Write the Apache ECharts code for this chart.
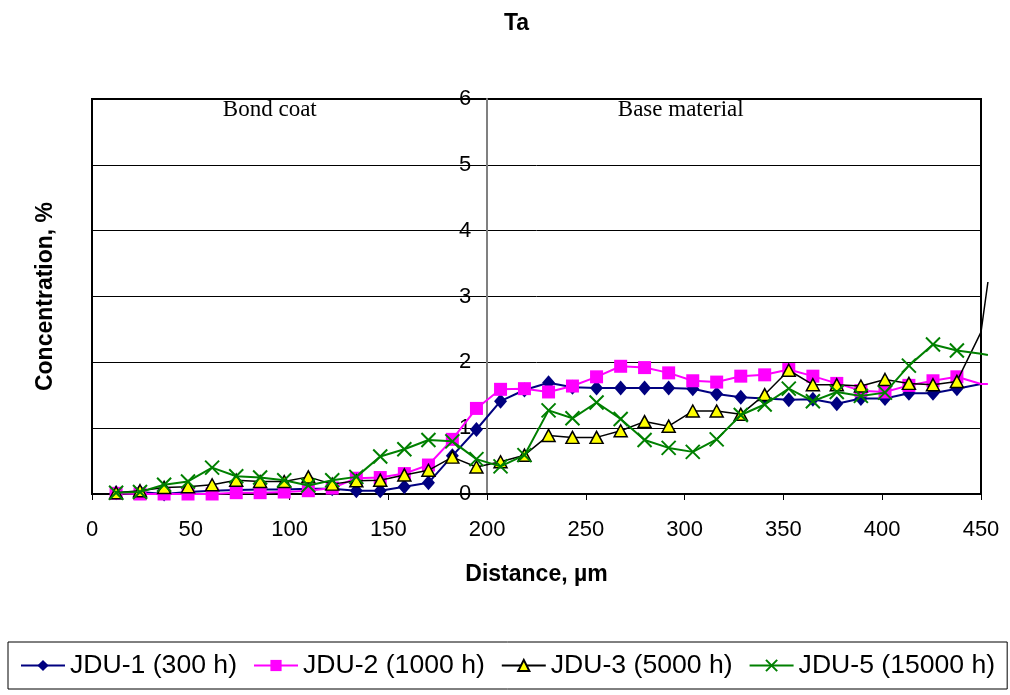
<!DOCTYPE html>
<html>
<head>
<meta charset="utf-8">
<title>Ta</title>
<script src="https://cdn.jsdelivr.net/npm/echarts@6/dist/echarts.min.js"></script>
<style>
  html, body { margin: 0; padding: 0; background: #fff; }
  #chart { width: 1010px; height: 695px; }
</style>
</head>
<body>
<div id="chart"></div>
<script>
// Measurement positions along the cross-section, µm
const distances = [
  12.2, 24.3, 36.5, 48.6, 60.8, 73.0, 85.1, 97.3, 109.5, 121.6,
  133.8, 145.9, 158.1, 170.3, 182.4, 194.6, 206.8, 218.9, 231.1, 243.2,
  255.4, 267.6, 279.7, 291.9, 304.1, 316.2, 328.4, 340.5, 352.7, 364.9,
  377.0, 389.2, 401.4, 413.5, 425.7, 437.8, 450.0
];
// The profile runs on a little past the framed range; this is where it is cut off
const tailDistance = 453.5;

// Ta concentration, %
const jdu1 = [
  0.02, 0.03, 0.00, 0.03, 0.05, 0.06, 0.07, 0.07, 0.08, 0.08,
  0.05, 0.05, 0.11, 0.17, 0.58, 0.98, 1.41, 1.58, 1.69, 1.62,
  1.61, 1.61, 1.61, 1.61, 1.60, 1.52, 1.47, 1.45, 1.43, 1.44,
  1.37, 1.45, 1.45, 1.53, 1.53, 1.60, 1.67
];
const jdu2 = [
  0.01, 0.00, 0.00, 0.00, 0.00, 0.02, 0.02, 0.03, 0.05, 0.09,
  0.24, 0.25, 0.31, 0.44, 0.83, 1.30, 1.59, 1.60, 1.55, 1.64,
  1.78, 1.94, 1.92, 1.84, 1.72, 1.70, 1.79, 1.81, 1.89, 1.79,
  1.68, 1.57, 1.55, 1.65, 1.72, 1.78, 1.67
];
const jdu3 = [
  0.02, 0.05, 0.10, 0.11, 0.14, 0.21, 0.19, 0.19, 0.26, 0.15,
  0.20, 0.21, 0.29, 0.36, 0.56, 0.41, 0.49, 0.59, 0.89, 0.86,
  0.86, 0.96, 1.10, 1.03, 1.26, 1.26, 1.21, 1.51, 1.88, 1.66,
  1.66, 1.64, 1.74, 1.68, 1.66, 1.71, 2.46
];
const jdu5 = [
  0.02, 0.03, 0.14, 0.19, 0.40, 0.27, 0.25, 0.21, 0.13, 0.21,
  0.26, 0.57, 0.68, 0.82, 0.80, 0.53, 0.42, 0.59, 1.27, 1.15,
  1.39, 1.14, 0.82, 0.70, 0.64, 0.83, 1.20, 1.36, 1.60, 1.41,
  1.55, 1.49, 1.54, 1.95, 2.27, 2.18, 2.13
];
// Value at the cut-off distance (null: the line stops at 450 µm)
const tails = { jdu1: null, jdu2: 1.67, jdu3: 3.22, jdu5: 2.11 };

const seriesNames = ['JDU-1 (300 h)', 'JDU-2 (1000 h)', 'JDU-3 (5000 h)', 'JDU-5 (15000 h)'];
const xTicks = { min: 0, max: 450, step: 50 };
const yTicks = { min: 0, max: 6, step: 1 };
const interfaceAt = 200;             // bond coat / base material boundary, µm
const zoneLabels = [
  { text: 'Bond coat', at: 90 },
  { text: 'Base material', at: 298 }
];

const FONT = '"Liberation Sans", Arial, sans-serif';
const SERIF = '"Liberation Serif", "Times New Roman", serif';
const W = 1010;
const GRID = { left: 92, right: 29, top: 99, bottom: 201 };
const plotWidth = W - GRID.left - GRID.right;
const pxPerUm = plotWidth / (xTicks.max - xTicks.min);
const xCross = (interfaceAt - xTicks.min) * pxPerUm;
// Data layer: same scale as the framed axes, but reaching out to the cut-off distance
const dataRight = W - (GRID.left + (tailDistance - xTicks.min) * pxPerUm);

const crossPath = 'path://M0,0L10,10M10,0L0,10';

// Markers only for points strictly inside the frame; the edge and cut-off points carry the line only
function points(values, tail) {
  const pts = distances.map((d, i) => (d < xTicks.max ? [d, values[i]] : { value: [d, values[i]], symbol: 'none' }));
  if (tail !== null) pts.push({ value: [tailDistance, tail], symbol: 'none' });
  return pts;
}

const chart = echarts.init(document.getElementById('chart'), null, { renderer: 'canvas' });

const common = { type: 'line', xAxisIndex: 1, yAxisIndex: 1, clip: true };

chart.setOption({
  backgroundColor: '#fff',
  animation: false,
  title: {
    text: 'Ta',
    left: 499,
    top: 7,
    textStyle: { fontFamily: FONT, fontSize: 23, fontWeight: 'bold', color: '#000' }
  },
  grid: [
    {
      left: GRID.left, right: GRID.right, top: GRID.top, bottom: GRID.bottom,
      show: true, borderColor: '#000', borderWidth: 2, backgroundColor: '#fff'
    },
    {
      left: GRID.left, right: dataRight, top: GRID.top, bottom: GRID.bottom,
      show: false
    }
  ],
  legend: {
    data: seriesNames,
    left: 8,
    top: 642,
    width: 1000,
    orient: 'horizontal',
    padding: [10, 12],
    itemGap: 16,
    itemWidth: 44,
    itemHeight: 14,
    borderColor: '#000',
    borderWidth: 1,
    borderRadius: 0,
    textStyle: { fontFamily: FONT, fontSize: 26.6, color: '#000' }
  },
  xAxis: [
    {
      gridIndex: 0,
      type: 'value',
      min: xTicks.min,
      max: xTicks.max,
      interval: xTicks.step,
      name: 'Distance, µm',
      nameLocation: 'middle',
      nameGap: 69,
      nameTextStyle: { fontFamily: FONT, fontSize: 23, fontWeight: 'bold', color: '#000' },
      axisLine: { onZero: false, lineStyle: { color: '#000', width: 2 } },
      axisTick: { show: true, length: 6, lineStyle: { color: '#000', width: 1 } },
      axisLabel: { fontFamily: FONT, fontSize: 22, color: '#000', margin: 25 },
      splitLine: { show: false }
    },
    {
      gridIndex: 1,
      type: 'value',
      min: xTicks.min,
      max: tailDistance,
      show: false,
      splitLine: { show: false }
    }
  ],
  yAxis: [
    {
      gridIndex: 0,
      type: 'value',
      min: yTicks.min,
      max: yTicks.max,
      interval: yTicks.step,
      position: 'left',
      offset: -xCross,
      name: 'Concentration, %',
      nameLocation: 'middle',
      nameGap: GRID.left + xCross - 57,
      nameTextStyle: { fontFamily: FONT, fontSize: 23, fontWeight: 'bold', color: '#000' },
      axisLine: { show: true, lineStyle: { color: '#808080', width: 2 } },
      axisTick: { show: false },
      axisLabel: { fontFamily: FONT, fontSize: 22, color: '#000', margin: 16 },
      splitLine: { show: true, lineStyle: { color: '#000', width: 1 } }
    },
    {
      gridIndex: 1,
      type: 'value',
      min: yTicks.min,
      max: yTicks.max,
      show: false,
      splitLine: { show: false }
    }
  ],
  series: [
    Object.assign({}, common, {
      name: seriesNames[0], z: 2,
      data: points(jdu1, tails.jdu1),
      symbol: 'diamond', symbolSize: [13, 15],
      lineStyle: { color: '#000080', width: 2 },
      itemStyle: { color: '#000080', borderColor: '#000080', borderWidth: 0 }
    }),
    Object.assign({}, common, {
      name: seriesNames[1], z: 3,
      data: points(jdu2, tails.jdu2),
      symbol: 'rect', symbolSize: 13,
      lineStyle: { color: '#FF00FF', width: 2 },
      itemStyle: { color: '#FF00FF', borderColor: '#FF00FF', borderWidth: 0 }
    }),
    Object.assign({}, common, {
      name: seriesNames[2], z: 4,
      data: points(jdu3, tails.jdu3),
      symbol: 'triangle', symbolSize: [13, 12],
      lineStyle: { color: '#000', width: 1.5 },
      itemStyle: { color: '#FFFF00', borderColor: '#000', borderWidth: 1.5 }
    }),
    Object.assign({}, common, {
      name: seriesNames[3], z: 5,
      data: points(jdu5, tails.jdu5),
      symbol: crossPath, symbolSize: 14,
      lineStyle: { color: '#008000', width: 2 },
      itemStyle: { color: 'none', borderColor: '#008000', borderWidth: 2 }
    })
  ]
});

// Zone captions above the profile, placed through the x scale
chart.setOption({
  graphic: zoneLabels.map(z => ({
    type: 'text',
    x: chart.convertToPixel({ xAxisIndex: 0 }, z.at),
    y: GRID.top + 11,
    style: {
      text: z.text,
      font: '23px ' + SERIF,
      fill: '#000',
      textAlign: 'center',
      textVerticalAlign: 'middle'
    },
    z: 10
  }))
});
</script>
</body>
</html>
